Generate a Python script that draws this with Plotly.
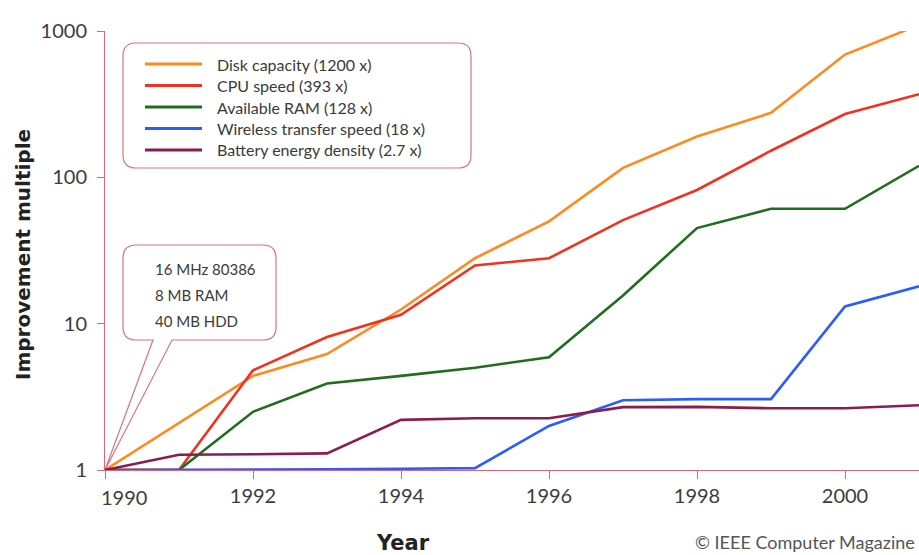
import plotly.graph_objects as go

years = list(range(1990, 2002))
series_names = [
    "Disk capacity (1200 x)",
    "CPU speed (393 x)",
    "Available RAM (128 x)",
    "Wireless transfer speed (18 x)",
    "Battery energy density (2.7 x)",
]
disk = [1, 2.1, 4.4, 6.2, 12.5, 28, 50, 116, 190, 276, 690, 1100]
cpu = [1, 1, 4.8, 8.1, 11.5, 25, 28, 51, 82, 152, 271, 370]
ram = [1, 1, 2.5, 3.9, 4.4, 5.0, 5.9, 15.6, 45, 61, 61, 120]
wireless = [1, 1, 1, 1.01, 1.02, 1.03, 2.0, 3.0, 3.05, 3.05, 13.1, 18]
battery = [1, 1.27, 1.28, 1.3, 2.2, 2.26, 2.26, 2.69, 2.7, 2.64, 2.64, 2.77]
callout_lines = ["16 MHz 80386", "8 MB RAM", "40 MB HDD"]
y_ticks = [1, 10, 100, 1000]
x_ticks = [1990, 1992, 1994, 1996, 1998, 2000]

colors = ["#ff8a1e", "#f0321e", "#1f6e1f", "#2a5cff", "#8c1c4c"]
all_series = [disk, cpu, ram, wireless, battery]

W, H = 919, 555
ML, MR, MT, MB = 105, 0, 31, 85
PW, PH = W - ML - MR, H - MT - MB
FONT = "Lato, 'Open Sans', sans-serif"
BOLD = "'DejaVu Sans', sans-serif"
AXC = "#d9677a"
TXT = "#3a3a3a"


def px(x):
    return (x - ML) / PW


def py(y):
    return (H - MB - y) / PH


def rounded_path(x0, y0, x1, y1, r, tail=None):
    rx, ry = r / PW, r / PH
    X0, X1 = px(x0), px(x1)
    Yt, Yb = py(y0), py(y1)
    p = f"M {X0+rx},{Yt} L {X1-rx},{Yt} Q {X1},{Yt} {X1},{Yt-ry} "
    p += f"L {X1},{Yb+ry} Q {X1},{Yb} {X1-rx},{Yb} "
    if tail:
        (ta, tb, tp) = tail
        p += f"L {px(tb)},{Yb} L {px(tp[0])},{py(tp[1])} L {px(ta)},{Yb} "
    p += f"L {X0+rx},{Yb} Q {X0},{Yb} {X0},{Yb+ry} L {X0},{Yt-ry} Q {X0},{Yt} {X0+rx},{Yt} Z"
    return p


fig = go.Figure()
for name, vals, c in zip(series_names, all_series, colors):
    fig.add_trace(go.Scatter(x=years, y=vals, mode="lines", name=name,
                             line=dict(color=c, width=2.6), showlegend=False))

shapes = []
annotations = []
# Legend box
shapes.append(dict(type="path", xref="paper", yref="paper",
                   path=rounded_path(123, 43, 471, 168, 13),
                   line=dict(color="#d87482", width=1.2), fillcolor="white", layer="below"))
row_y = [64, 85.5, 107, 128.5, 150]
for i, (name, c) in enumerate(zip(series_names, colors)):
    yy = py(row_y[i])
    shapes.append(dict(type="line", xref="paper", yref="paper",
                       x0=px(145), x1=px(202), y0=yy, y1=yy,
                       line=dict(color=c, width=3)))
    annotations.append(dict(xref="paper", yref="paper", x=px(215), y=yy,
                            text=name, showarrow=False, xanchor="left", yanchor="middle",
                            font=dict(family=FONT, size=16, color=TXT)))

# Callout box
shapes.append(dict(type="path", xref="paper", yref="paper",
                   path=rounded_path(123, 245, 276, 340, 13, tail=(153, 172, (105, 470))),
                   line=dict(color="#d87482", width=1.2), fillcolor="white", layer="below"))
for i, t in enumerate(callout_lines):
    annotations.append(dict(xref="paper", yref="paper", x=px(153), y=py([269, 295, 321][i]),
                            text=t, showarrow=False, xanchor="left", yanchor="middle",
                            font=dict(family=FONT, size=15, color=TXT)))

# First x tick label sits right of its tick
annotations.append(dict(xref="x", yref="paper", x=1990, xshift=19, y=py(497),
                        text=str(x_ticks[0]), showarrow=False, xanchor="center", yanchor="middle",
                        font=dict(family=FONT, size=20, color="#3c3c3c")))

# Titles
annotations.append(dict(xref="paper", yref="paper", x=px(403), y=py(543), text="<b>Year</b>",
                        showarrow=False, xanchor="center", yanchor="middle",
                        font=dict(family=BOLD, size=21, color="#222")))
annotations.append(dict(xref="paper", yref="paper", x=px(23), y=py(255),
                        text="<b>Improvement multiple</b>", textangle=-90,
                        showarrow=False, xanchor="center", yanchor="middle",
                        font=dict(family=BOLD, size=20, color="#222")))
annotations.append(dict(xref="paper", yref="paper", x=px(917), y=py(542),
                        text="© IEEE Computer Magazine",
                        showarrow=False, xanchor="right", yanchor="middle",
                        font=dict(family=FONT, size=18, color="#555")))

x_text = [""] + [str(v) for v in x_ticks[1:]]

fig.update_layout(
    width=W, height=H,
    margin=dict(l=ML, r=MR, t=MT, b=MB),
    plot_bgcolor="white", paper_bgcolor="white",
    shapes=shapes, annotations=annotations,
    xaxis=dict(range=[1990, 2001], tickvals=x_ticks, ticktext=x_text,
               showgrid=False, zeroline=False, showline=True, linecolor=AXC, linewidth=1,
               ticks="outside", ticklen=8, tickcolor=AXC,
               tickfont=dict(family=FONT, size=20, color="#3c3c3c")),
    yaxis=dict(type="log", range=[0, 3], tickvals=y_ticks, ticktext=[str(v) for v in y_ticks],
               showgrid=False, zeroline=False, showline=True, linecolor=AXC, linewidth=1,
               ticks="outside", ticklen=7, tickcolor=AXC, ticklabelstandoff=6,
               tickfont=dict(family=FONT, size=20, color="#3c3c3c")),
)

fig.write_html("out.html", config={"displayModeBar": False},
               post_script="document.body.style.margin='0';document.body.style.overflow='hidden';")
